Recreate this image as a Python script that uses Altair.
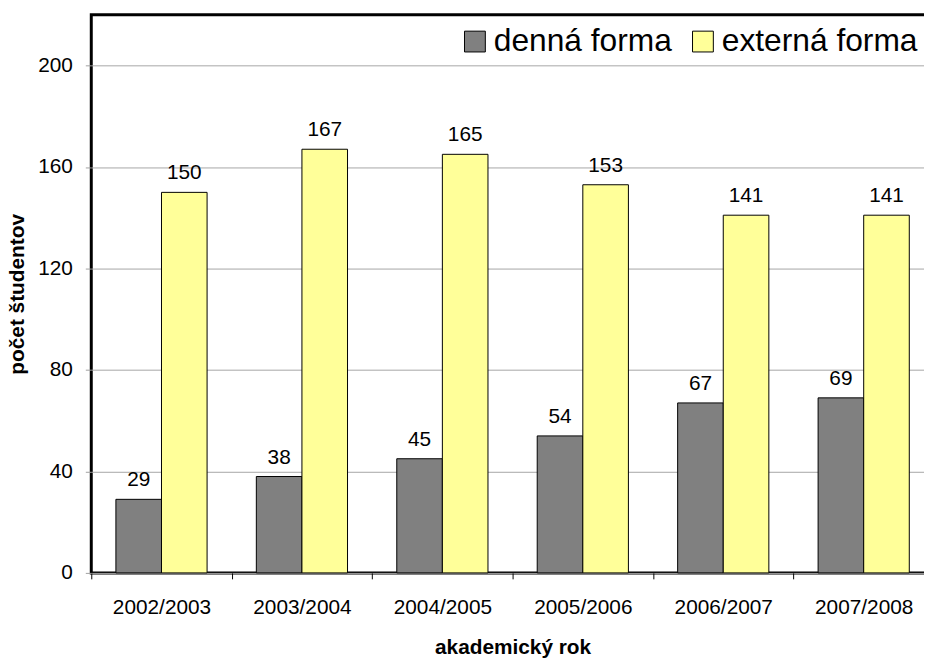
import altair as alt
import pandas as pd

years = ["2002/2003", "2003/2004", "2004/2005", "2005/2006", "2006/2007", "2007/2008"]
denna = [29, 38, 45, 54, 67, 69]
externa = [150, 167, 165, 153, 141, 141]
series = ["denná forma", "externá forma"]
colors = ["#808080", "#FFFF99"]
y_ticks = [0, 40, 80, 120, 160, 200]

rows = []
for i, yr in enumerate(years):
    rows.append({"rok": yr, "forma": series[0], "pocet": denna[i]})
    rows.append({"rok": yr, "forma": series[1], "pocet": externa[i]})
df = pd.DataFrame(rows)

FONT = "Liberation Sans"

x_enc = alt.X(
    "rok:N", sort=years, title="akademický rok",
    scale=alt.Scale(paddingInner=0, paddingOuter=0),
    axis=alt.Axis(labelAngle=0, tickBand="extent", tickSize=6, tickColor="black",
                  tickWidth=1, domain=False, grid=False,
                  labelFontSize=21, labelPadding=18, labelColor="black",
                  titleFontSize=21, titleFontWeight="bold", titlePadding=19,
                  titleColor="black"),
)
xo_enc = alt.XOffset("forma:N", sort=series,
                     scale=alt.Scale(paddingOuter=0.54, paddingInner=0))
y_enc = alt.Y(
    "pocet:Q", title="počet študentov",
    scale=alt.Scale(domain=[0, 220], nice=False),
    axis=alt.Axis(values=y_ticks, tickSize=6, tickColor="#a0a0a0", domain=False,
                  grid=True, gridColor="#a6a6a6", gridWidth=1,
                  labelFontSize=21, labelPadding=13, labelColor="black",
                  titleFontSize=21, titleFontWeight="bold", titlePadding=10,
                  titleColor="black"),
)
color_enc = alt.Color(
    "forma:N", sort=series,
    scale=alt.Scale(domain=series, range=colors),
    legend=alt.Legend(title=None, orient="none", legendX=371, legendY=11,
                      direction="horizontal", symbolType="square", symbolSize=441,
                      symbolStrokeColor="black", symbolStrokeWidth=1,
                      labelFontSize=32, labelOffset=3, columnPadding=15,
                      labelLimit=400, padding=0, labelColor="black"),
)

bars = alt.Chart(df).mark_bar(stroke="black", strokeWidth=1).encode(
    x=x_enc, xOffset=xo_enc, y=y_enc, color=color_enc
)
labels = alt.Chart(df).mark_text(
    dy=-13, baseline="alphabetic", fontSize=21, color="black", font=FONT
).encode(
    x=alt.X("rok:N", sort=years),
    xOffset=alt.XOffset("forma:N", sort=series),
    y=alt.Y("pocet:Q"),
    text="pocet:Q",
)

chart = alt.layer(bars, labels).properties(
    width=850, height=563,
    autosize=alt.AutoSizeParams(type="none"),
    padding={"left": 84, "top": 4, "right": -10, "bottom": 84},
).configure(
    font=FONT,
).configure_view(
    stroke="black", strokeWidth=3
).configure_axis(
    labelFont=FONT, titleFont=FONT
).configure_legend(
    labelFont=FONT
)

chart.save("out.html", embed_options={"renderer": "svg", "actions": False})
